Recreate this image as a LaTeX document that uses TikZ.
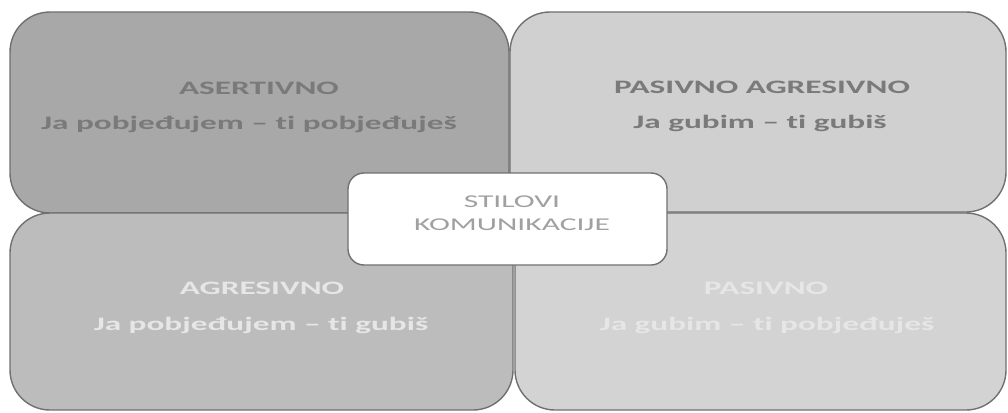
\documentclass[tikz,border=0pt]{standalone}
\usepackage{fontspec}
\setmainfont[FakeStretch=1.75,Ligatures=NoCommon]{Carlito}
\begin{document}
\begin{tikzpicture}[x=1pt,y=-1pt,
  quad/.style={draw=edgegray,line width=1.4pt,rounded corners=40pt},
  lbl/.style={font=\fontsize{19}{22}\selectfont\bfseries,inner sep=0pt,anchor=center},
  ctr/.style={draw=edgegray,line width=1.4pt,fill=white,rounded corners=16pt}]
\definecolor{edgegray}{HTML}{707070}
\definecolor{tlfill}{HTML}{A8A8A8}
\definecolor{trfill}{HTML}{D0D0D0}
\definecolor{blfill}{HTML}{BCBCBC}
\definecolor{brfill}{HTML}{D3D3D3}
\definecolor{darktxt}{HTML}{7A7A7A}
\definecolor{lighttxt}{HTML}{E6E6E6}
\definecolor{centertxt}{HTML}{A0A0A0}
\useasboundingbox[fill=white] (0,0) rectangle (1008,412);
% quadrants
\path[quad,fill=tlfill] (10,12) rectangle (509,213);
\path[quad,fill=trfill] (510,12) rectangle (1006,212);
\path[quad,fill=blfill] (10,213) rectangle (513,410);
\path[quad,fill=brfill] (515,213) rectangle (1006,410);
\node[lbl,text=darktxt] (a1) at (259,88) {ASERTIVNO};
\node[lbl,text=darktxt] (a2) at (249,124) {Ja pobjeđujem – ti pobjeđuješ};
\node[lbl,text=darktxt] (b1) at (762,87) {PASIVNO AGRESIVNO};
\node[lbl,text=darktxt] (b2) at (760,123) {Ja gubim – ti gubiš};
\node[lbl,text=lighttxt] (c1) at (262,288) {AGRESIVNO};
\node[lbl,text=lighttxt] (c2) at (261,325) {Ja pobjeđujem – ti gubiš};
\node[lbl,text=lighttxt] (d1) at (766,288) {PASIVNO};
\node[lbl,text=lighttxt] (d2) at (767,325) {Ja gubim – ti pobjeđuješ};
% centre
\path[ctr] (348,173) rectangle (667,265);
\node[font=\fontsize{18}{23}\selectfont,text=centertxt,align=center,inner sep=0pt] (cc) at (512,213) {STILOVI\\KOMUNIKACIJE};
\end{tikzpicture}
\end{document}
